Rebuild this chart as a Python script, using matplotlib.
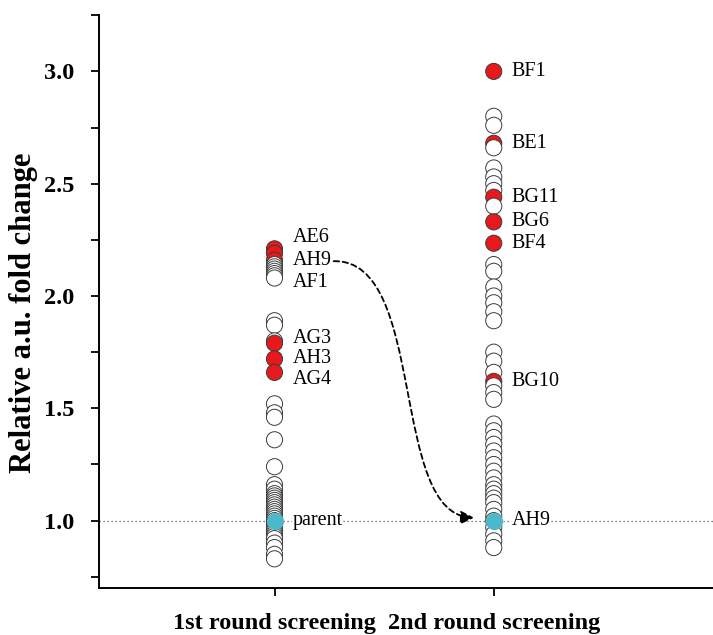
import matplotlib
matplotlib.use("Agg")
import matplotlib.pyplot as plt
from matplotlib.path import Path
from matplotlib.patches import FancyArrowPatch
from matplotlib.ticker import MultipleLocator

plt.rcParams['font.family'] = 'Liberation Serif'

# screening rounds
rounds = ["1st round screening", "2nd round screening"]

# relative a.u. fold change, 1st round (top to bottom)
r1_vals = [2.21, 2.19, 2.16, 2.14, 2.13, 2.12, 2.11, 2.10, 2.09, 2.08,
           1.89, 1.87, 1.80, 1.79, 1.72, 1.66, 1.52, 1.48, 1.46, 1.36, 1.24,
           1.16, 1.14, 1.12, 1.11, 1.10, 1.09, 1.08, 1.07, 1.06, 1.05, 1.04,
           1.03, 1.02, 1.01, 1.00, 0.99, 0.98, 0.97, 0.96, 0.95, 0.94, 0.93,
           0.92, 0.90, 0.88, 0.85, 0.83]
r1_hit_vals = [2.21, 2.19, 2.16, 1.79, 1.72, 1.66]
r1_hit_names = ["AE6", "AH9", "AF1", "AG3", "AH3", "AG4"]
r1_label_y = [2.26, 2.16, 2.06, 1.81, 1.72, 1.63]
r1_parent = 1.00

# 2nd round
r2_vals = [3.00, 2.80, 2.76, 2.68, 2.66, 2.57, 2.53, 2.50, 2.47, 2.44,
           2.40, 2.33, 2.235, 2.14, 2.11, 2.04, 2.00, 1.97, 1.93, 1.89,
           1.75, 1.71, 1.66, 1.62, 1.60, 1.57, 1.54, 1.43, 1.40, 1.37, 1.34,
           1.31, 1.28, 1.25, 1.22, 1.19, 1.16, 1.14, 1.12, 1.10, 1.08, 1.05,
           1.02, 1.00, 0.97, 0.94, 0.91, 0.88]
r2_hit_vals = [3.00, 2.68, 2.44, 2.33, 2.235, 1.62]
r2_hit_names = ["BF1", "BE1", "BG11", "BG6", "BF4", "BG10"]
r2_parent = 1.00

RED = '#e8191c'
CYAN = '#4bb9c9'
EDGE = '#3c3c3c'

fig = plt.figure(figsize=(7.13, 6.35), dpi=100)
ax = fig.add_axes([0.139, 0.074, 0.861, 0.902])


def column(xpos, vals, hits, parent):
    cols = [RED if v in hits else 'white' for v in vals]
    # drawn top to bottom so lower circles overlap the ones above
    ax.scatter([xpos] * len(vals), vals, s=135, c=cols, edgecolors=EDGE,
               linewidths=0.7, zorder=3)
    ax.scatter([xpos], [parent], s=135, c=CYAN, edgecolors=CYAN,
               linewidths=0.7, zorder=4)


column(1, r1_vals, r1_hit_vals, r1_parent)
column(2, r2_vals, r2_hit_vals, r2_parent)

ax.axhline(1.0, color='#555555', ls=(0, (1, 2.2)), lw=0.9, zorder=1)

lab = dict(fontsize=14.5, va='center', ha='left', textcoords='offset points')
for name, ly in zip(r1_hit_names, r1_label_y):
    ax.annotate(name, (1, ly), xytext=(13, 0), **lab)
ax.annotate("parent", (1, r1_parent), xytext=(13, 0), zorder=5,
            bbox=dict(fc='white', ec='none', pad=0.5), **lab)
for name, v in zip(r2_hit_names, r2_hit_vals):
    ax.annotate(name, (2, v), xytext=(13, 0), **lab)
ax.annotate("AH9", (2, r2_parent), xytext=(13, 0), zorder=5,
            bbox=dict(fc='white', ec='none', pad=0.5), **lab)

# curved dashed arrow from AH9 (1st round) to AH9 (2nd round)
arc = Path([(1.27, 2.155), (1.70, 2.165), (1.52, 1.02), (1.91, 1.013)],
           [Path.MOVETO, Path.CURVE4, Path.CURVE4, Path.CURVE4])
ax.add_patch(FancyArrowPatch(path=arc, arrowstyle='-|>', mutation_scale=20,
                             color='black', lw=1.3, ls=(0, (3, 2)), zorder=6))

ax.set_xlim(0.2, 3.0)
ax.set_ylim(0.7, 3.25)
ax.set_xticks([1, 2])
ax.set_xticklabels(rounds, fontsize=17.5, fontweight='bold')
ax.yaxis.set_major_locator(MultipleLocator(0.5))
ax.yaxis.set_minor_locator(MultipleLocator(0.25))
ax.set_yticks([1.0, 1.5, 2.0, 2.5, 3.0])
ax.set_yticklabels(['1.0', '1.5', '2.0', '2.5', '3.0'], fontsize=17.5, fontweight='bold')
ax.tick_params(axis='both', which='major', direction='out', length=6, width=1.3)
ax.tick_params(axis='y', which='minor', direction='out', length=6, width=1.3)
ax.tick_params(axis='x', pad=12)
ax.tick_params(axis='y', pad=12)
ax.set_ylabel("Relative a.u. fold change", fontsize=22, fontweight='bold')
ax.yaxis.set_label_coords(-0.1, 0.48)

for s in ['top', 'right']:
    ax.spines[s].set_visible(False)
for s in ['left', 'bottom']:
    ax.spines[s].set_linewidth(1.4)

fig.savefig("out.png", dpi=100)
